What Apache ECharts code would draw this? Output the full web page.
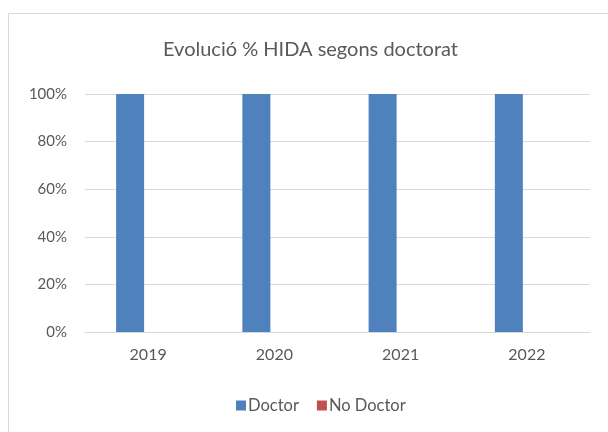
<!DOCTYPE html>
<html>
<head>
<meta charset="utf-8">
<script src="https://cdn.jsdelivr.net/npm/echarts@6/dist/echarts.min.js"></script>
<style>
  html, body { margin: 0; padding: 0; background: #fff; }
  #chart { width: 608px; height: 432px; }
</style>
</head>
<body>
<div id="chart"></div>
<script>
var years = ['2019', '2020', '2021', '2022'];
var doctor = [100, 100, 100, 100];
var noDoctor = [0, 0, 0, 0];

var chart = echarts.init(document.getElementById('chart'));
var txt = '#595959';
var option = {
    animation: false,
    textStyle: { fontFamily: 'Lato' },
    graphic: [{
        type: 'rect',
        shape: { x: 8.5, y: 13.5, width: 640, height: 460 },
        style: { fill: 'none', stroke: '#d9d9d9', lineWidth: 1 }
    }],
    title: {
        text: 'Evolució % HIDA segons doctorat',
        left: 158,
        top: 35,
        textStyle: { fontFamily: 'Lato', fontSize: 20, fontWeight: 'normal', color: txt }
    },
    legend: {
        bottom: 13,
        left: 231,
        itemWidth: 10,
        itemHeight: 10,
        itemGap: 18,
        icon: 'rect',
        textStyle: { fontFamily: 'Lato', fontSize: 16.5, color: txt, padding: [0, 0, 0, -3] },
        data: ['Doctor', 'No Doctor']
    },
    grid: {
        top: 94,
        left: 85,
        right: 18,
        bottom: 100
    },
    xAxis: {
        type: 'category',
        data: years,
        axisTick: { show: false },
        axisLine: { lineStyle: { color: '#d9d9d9', width: 1 } },
        axisLabel: { color: txt, fontSize: 16, margin: 15 }
    },
    yAxis: {
        type: 'value',
        min: 0,
        max: 100,
        interval: 20,
        axisLabel: { color: txt, fontSize: 15, margin: 18, formatter: '{value}%' },
        axisLine: { show: false },
        axisTick: { show: false },
        splitLine: { lineStyle: { color: '#d9d9d9', width: 1 } }
    },
    series: [{
        name: 'Doctor',
        type: 'bar',
        data: doctor,
        barWidth: 28,
        barGap: '28.6%',
        itemStyle: { color: '#4F81BD' }
    }, {
        name: 'No Doctor',
        type: 'bar',
        data: noDoctor,
        barWidth: 28,
        itemStyle: { color: '#C0504D' }
    }]
};
chart.setOption(option);
</script>
</body>
</html>
